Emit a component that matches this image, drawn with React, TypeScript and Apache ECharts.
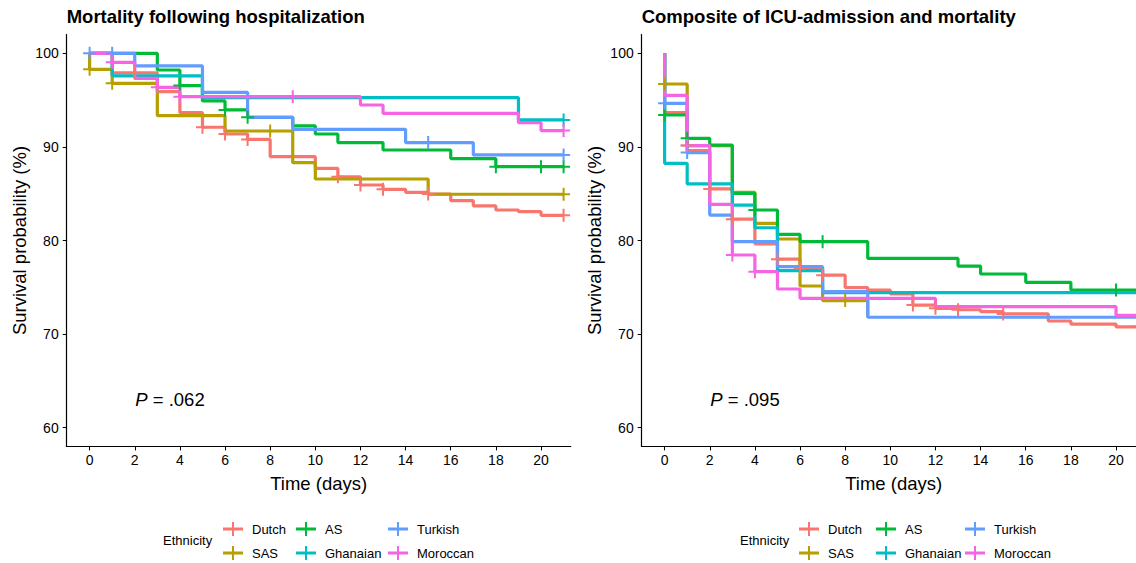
import React, { useEffect, useRef } from "react";
import * as echarts from "echarts";

// ---------- data ----------
const GROUPS = ["Dutch", "SAS", "AS", "Ghanaian", "Turkish", "Moroccan"];
const X_TICKS = [0, 2, 4, 6, 8, 10, 12, 14, 16, 18, 20];
const Y_TICKS = [60, 70, 80, 90, 100];
const TITLES = ["Mortality following hospitalization", "Composite of ICU-admission and mortality"];
const P_VALUES = [".062", ".095"];
const P_COORD = [2, 63];

// Panel 1: mortality, [day, survival %] (value holds from that day on)
const mortDutch = [[0, 100], [1, 97.9], [3, 95.9], [4, 93.66], [5, 92.1], [6, 91.38], [7, 90.8], [8, 88.96], [10, 87.71], [11, 86.8], [12, 85.93], [13, 85.47], [14, 85.15], [15, 84.97], [16, 84.26], [17, 83.69], [18, 83.26], [19, 83.08], [20, 82.69], [21, 82.69]];
const mortSAS = [[0, 100], [0, 98.29], [1, 96.79], [3, 93.34], [6, 91.7], [9, 88.32], [10, 86.57], [15, 84.94], [21, 84.94]];
const mortAS = [[0, 100], [3, 98.22], [4, 96.55], [5, 94.91], [6, 93.95], [7, 93.16], [9, 92.24], [10, 91.38], [11, 90.46], [13, 89.67], [16, 88.75], [18, 87.89], [21, 87.89]];
const mortGhanaian = [[0, 100], [1, 97.6], [5, 95.26], [19, 92.88], [21, 92.88]];
const mortTurkish = [[0, 100], [2, 98.65], [5, 95.83], [7, 93.16], [9, 91.88], [14, 90.46], [17, 89.14], [21, 89.14]];
const mortMoroccan = [[0, 100], [1, 99.04], [2, 97.33], [3, 96.37], [4, 95.37], [12, 94.48], [13, 93.59], [19, 92.59], [20, 91.74], [21, 91.74]];

const mortDutchCensor = [2, 5, 6, 7, 11, 12, 13, 15, 21];
const mortSASCensor = [0, 1, 8, 21];
const mortASCensor = [4, 6, 7, 18, 20, 21];
const mortGhanaianCensor = [21];
const mortTurkishCensor = [0, 1, 15, 21];
const mortMoroccanCensor = [1, 3, 4, 9, 21];

// Panel 2: composite of ICU admission and mortality
const compDutch = [[0, 100], [0, 93.66], [1, 89.6], [2, 85.51], [3, 82.28], [4, 79.65], [5, 78.0], [6, 77.0], [7, 76.3], [8, 74.97], [9, 74.7], [10, 74.3], [11, 73.1], [12, 72.75], [13, 72.6], [14, 72.4], [15, 72.15], [17, 71.4], [18, 71.07], [20, 70.78], [21, 70.78]];
const compSAS = [[0, 100], [0, 96.72], [1, 90.14], [3, 85.15], [4, 81.83], [5, 80.16], [6, 75.14], [7, 73.58], [9, 71.8]];
const compAS = [[0, 100], [0, 93.41], [1, 90.92], [2, 90.2], [3, 85.04], [4, 83.26], [5, 80.66], [6, 79.87], [9, 78.09], [13, 77.27], [14, 76.42], [16, 75.53], [18, 74.71], [21, 74.71]];
const compGhanaian = [[0, 100], [0, 88.25], [1, 86.04], [3, 83.77], [4, 81.36], [5, 76.78], [7, 74.43], [21, 74.43]];
const compTurkish = [[0, 100], [0, 94.66], [1, 89.39], [2, 82.72], [3, 79.87], [5, 77.2], [7, 74.53], [9, 71.8], [21, 71.8]];
const compMoroccan = [[0, 100], [0, 95.5], [1, 90.14], [2, 83.85], [3, 78.45], [4, 76.67], [5, 74.82], [6, 73.82], [12, 72.93], [20, 72.0], [21, 72.0]];

const compDutchCensor = [2, 3, 5, 6, 7, 11, 12, 13, 15, 21];
const compSASCensor = [0, 1, 8];
const compASCensor = [0, 1, 4, 7, 20];
const compGhanaianCensor = [21];
const compTurkishCensor = [0, 1];
const compMoroccanCensor = [1, 3, 4];

const PANEL_CURVES = [
  [mortDutch, mortSAS, mortAS, mortGhanaian, mortTurkish, mortMoroccan],
  [compDutch, compSAS, compAS, compGhanaian, compTurkish, compMoroccan],
];
const PANEL_CENSORS = [
  [mortDutchCensor, mortSASCensor, mortASCensor, mortGhanaianCensor, mortTurkishCensor, mortMoroccanCensor],
  [compDutchCensor, compSASCensor, compASCensor, compGhanaianCensor, compTurkishCensor, compMoroccanCensor],
];

// ---------- styles ----------
const PALETTE = ["#F8766D", "#B79F00", "#00BA38", "#00BFC4", "#619CFF", "#F564E3"];
const FONT = '"Liberation Sans", Arial, Helvetica, sans-serif';
const PANEL_LEFT = [66.7, 641.7];
const GRID_TOP = 34.6;
const GRID_W = 504;
const GRID_H = 411.8;
const LEGEND_ETH_X = [163, 740];
const LEGEND_COL_X = [[223, 296, 388], [799, 876, 965]];
const PLUS = "path://M0,5.5H5.5V0H7.5V5.5H13V7.5H7.5V13H5.5V7.5H0Z";
const LEGEND_PLUS = "path://M0,5.5H9V0H11V5.5H20V8.5H11V14H9V8.5H0Z";

function survivalAt(curve: number[][], t: number): number {
  let v = curve[0][1];
  for (const [d, s] of curve) if (d <= t) v = s;
  return v;
}

export default function App() {
  const ref = useRef<HTMLDivElement>(null);
  useEffect(() => {
    if (!ref.current) return;
    const chart = echarts.init(ref.current, undefined, { renderer: "svg" });

    const grids: any[] = [];
    const xAxes: any[] = [];
    const yAxes: any[] = [];
    const series: any[] = [];
    const legends: any[] = [];
    const titles: any[] = [];
    const graphics: any[] = [];

    [0, 1].forEach((p) => {
      grids.push({ left: PANEL_LEFT[p], top: GRID_TOP, width: GRID_W, height: GRID_H, containLabel: false });
      xAxes.push({
        type: "value", gridIndex: p, min: -1.015, max: 21.315,
        axisLine: { show: true, onZero: false, lineStyle: { color: "#000", width: 1.2 } },
        axisTick: { show: true, length: 4, customValues: X_TICKS, lineStyle: { color: "#000", width: 1 } },
        axisLabel: { customValues: X_TICKS, color: "#000", fontSize: 14, margin: 7, fontFamily: FONT },
        splitLine: { show: false },
        name: "Time (days)", nameLocation: "middle", nameGap: 28,
        nameTextStyle: { fontSize: 18.5, color: "#000", fontFamily: FONT },
      });
      yAxes.push({
        type: "value", gridIndex: p, min: 58, max: 102,
        axisLine: { show: true, onZero: false, lineStyle: { color: "#000", width: 1.2 } },
        axisTick: { show: true, length: 4, customValues: Y_TICKS, lineStyle: { color: "#000", width: 1 } },
        axisLabel: { customValues: Y_TICKS, color: "#000", fontSize: 14, margin: 8, fontFamily: FONT },
        splitLine: { show: false },
        name: "Survival probability (%)", nameLocation: "middle", nameGap: 38,
        nameTextStyle: { fontSize: 18.5, color: "#000", fontFamily: FONT },
      });
      titles.push({
        text: TITLES[p], left: PANEL_LEFT[p], top: 7, padding: 0,
        textStyle: { fontSize: 18.5, fontWeight: "bold", color: "#000", fontFamily: FONT },
      });

      GROUPS.forEach((g, i) => {
        series.push({
          name: g, type: "line", xAxisIndex: p, yAxisIndex: p, step: "end",
          symbol: "none", showSymbol: false, silent: true, clip: true,
          data: PANEL_CURVES[p][i],
          lineStyle: { color: PALETTE[i], width: 3.2 },
          itemStyle: { color: PALETTE[i] },
          z: 2,
        });
      });
      GROUPS.forEach((g, i) => {
        series.push({
          name: g, type: "scatter", xAxisIndex: p, yAxisIndex: p,
          symbol: PLUS, symbolSize: 13, silent: true,
          data: PANEL_CENSORS[p][i].map((t) => [t, survivalAt(PANEL_CURVES[p][i], t)]),
          itemStyle: { color: PALETTE[i], opacity: 1 },
          z: 3,
        });
      });
      series.push({
        name: "pval" + p, type: "scatter", xAxisIndex: p, yAxisIndex: p,
        symbolSize: 1, itemStyle: { color: "rgba(255,255,255,0)" }, silent: true,
        data: [P_COORD],
        label: {
          show: true, position: "right", distance: 0, opacity: 1,
          formatter: "{i|P} = " + P_VALUES[p],
          color: "#000", fontSize: 18.5, fontFamily: FONT, textBorderWidth: 0,
          rich: { i: { fontStyle: "italic", fontSize: 18.5, color: "#000", fontFamily: FONT, textBorderWidth: 0 } },
        },
        z: 4,
      });

      [0, 1, 2].forEach((c) => {
        legends.push({
          orient: "vertical", left: LEGEND_COL_X[p][c], top: 522,
          itemWidth: 20, itemHeight: 14, itemGap: 10, padding: 0,
          icon: LEGEND_PLUS, selectedMode: false,
          data: [GROUPS[c * 2], GROUPS[c * 2 + 1]],
          textStyle: { fontSize: 13, color: "#000", fontFamily: FONT, padding: [0, 0, 0, 4] },
        });
      });
      graphics.push({
        type: "text", left: LEGEND_ETH_X[p], top: 534,
        style: { text: "Ethnicity", fontSize: 13, fill: "#000", fontFamily: FONT },
      });
    });

    chart.setOption({
      animation: false,
      backgroundColor: "#fff",
      title: titles,
      grid: grids,
      xAxis: xAxes,
      yAxis: yAxes,
      legend: legends,
      series,
      graphic: graphics,
    });
    return () => chart.dispose();
  }, []);

  return (
    <div style={{ position: "fixed", left: 0, top: 0, width: 1136, height: 563, overflow: "hidden", background: "#fff" }}>
      <div ref={ref} style={{ width: 1160, height: 563 }} />
    </div>
  );
}
